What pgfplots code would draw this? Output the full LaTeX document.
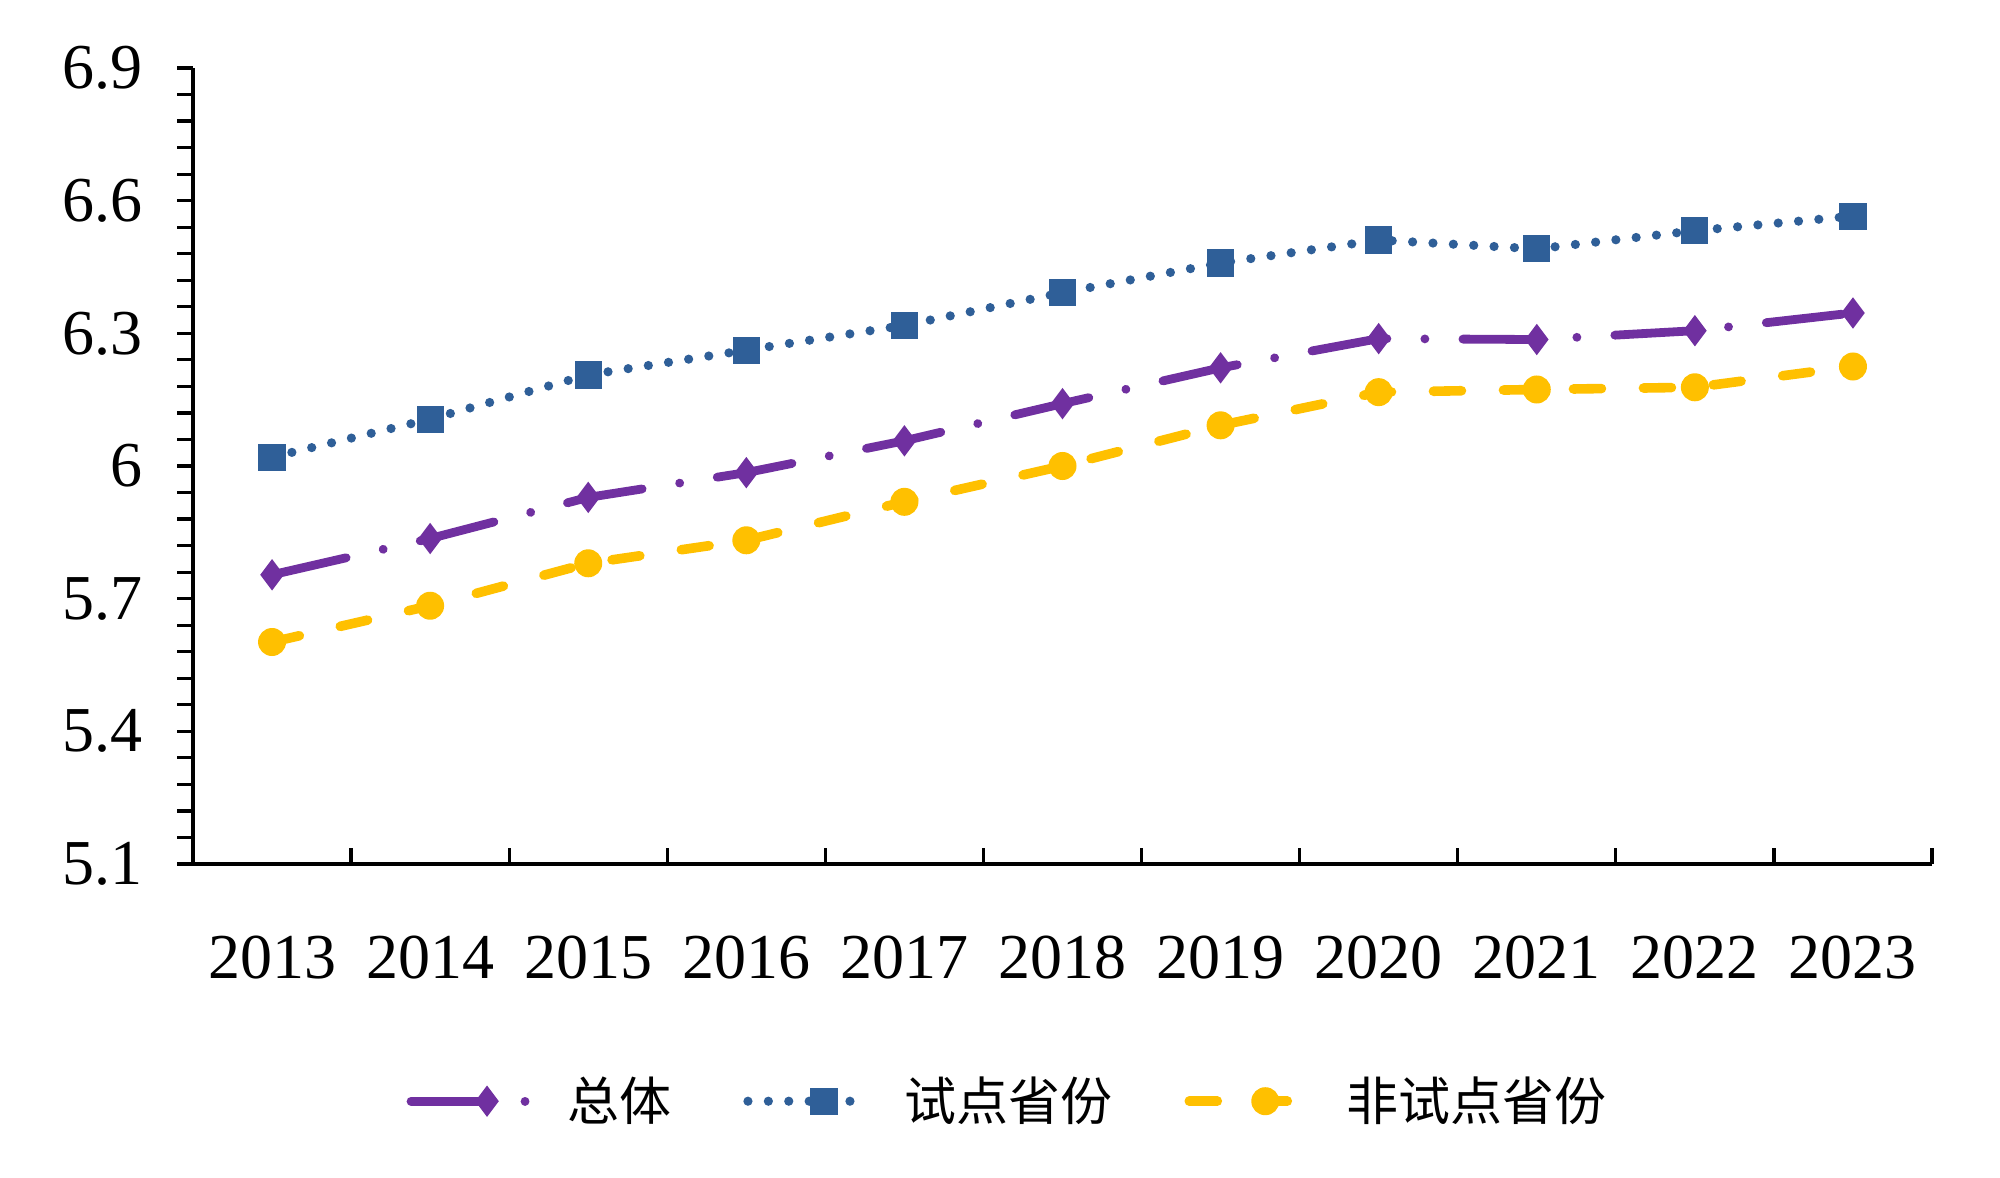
\documentclass[border=0pt]{standalone}
\usepackage{fontspec}
\setmainfont{Liberation Serif}
\newfontfamily\cjk{Noto Sans CJK SC}
\usepackage{pgfplots}
\usepackage{pgfplotstable}
\pgfplotsset{compat=1.18}

\definecolor{zongti}{HTML}{7030A0}
\definecolor{shidian}{HTML}{2F5F98}
\definecolor{feishi}{HTML}{FFC000}

% 2013 ... 2023 at x = 0 ... 10
\pgfplotstableread{
x  zongti  shidian  feishi
0  5.754   6.020    5.602
1  5.836   6.106    5.684
2  5.929   6.206    5.780
3  5.985   6.262    5.832
4  6.057   6.318    5.919
5  6.141   6.392    6.000
6  6.222   6.459    6.092
7  6.288   6.511    6.167
8  6.286   6.491    6.173
9  6.306   6.532    6.178
10 6.346   6.565    6.225
}\datatable

\begin{document}
\begin{tikzpicture}
\useasboundingbox (-48.25bp,-78.5bp) rectangle (451.75bp,216bp);
\begin{axis}[
    scale only axis,
    width=434.75bp, height=199bp,
    xmin=-0.5, xmax=10.5,
    ymin=5.1, ymax=6.9,
    axis lines*=left,
    axis line style={line width=0.9bp},
    every tick/.style={black, line width=0.8bp},
    xtick={0,...,10},
    xticklabels={2013,2014,2015,2016,2017,2018,2019,2020,2021,2022,2023},
    major x tick style={draw=none},
    minor xtick={0.5,1.5,...,10.5},
    xtick align=inside,
    ytick={5.1,5.4,5.7,6,6.3,6.6,6.9},
    yticklabels={5.1,5.4,5.7,6,6.3,6.6,6.9},
    minor y tick num=4,
    ytick align=outside,
    major tick length=4bp,
    minor tick length=4bp,
    tick label style={font=\fontsize{16bp}{19bp}\selectfont},
    /pgf/number format/assume math mode=true,
    x tick label style={yshift=-14.5bp},
    y tick label style={xshift=-5bp},
    legend columns=3,
    legend style={at={(0.47,-0.298)}, anchor=center, draw=none,
        font=\cjk\fontsize{13bp}{15bp}\selectfont,
        /tikz/every odd column/.append style={column sep=6bp},
        /tikz/every even column/.append style={column sep=16bp}},
    legend image code/.code={
        \draw[mark repeat=2,mark phase=2]
        plot coordinates {(0bp,0bp) (19bp,0bp) (30bp,0bp)};},
]
\addplot[color=zongti, line width=2.2bp, line cap=round,
    dash pattern=on 19bp off 9.5bp on 0.01bp off 9.5bp,
    mark=diamond*, mark size=3.6bp, mark options={solid, line width=0.4bp}]
    table[x=x, y=zongti] {\datatable};
\addlegendentry{总体}
\addplot[color=shidian, line width=2.3bp, line cap=round,
    dash pattern=on 0bp off 5.1bp,
    mark=square*, mark size=3.2bp, mark options={solid, line width=0.4bp}]
    table[x=x, y=shidian] {\datatable};
\addlegendentry{试点省份}
\addplot[color=feishi, line width=2.4bp, line cap=round,
    dash pattern=on 7bp off 10.5bp,
    mark=*, mark size=3.3bp, mark options={solid, line width=0.4bp}]
    table[x=x, y=feishi] {\datatable};
\addlegendentry{非试点省份}
\end{axis}
\end{tikzpicture}
\end{document}
